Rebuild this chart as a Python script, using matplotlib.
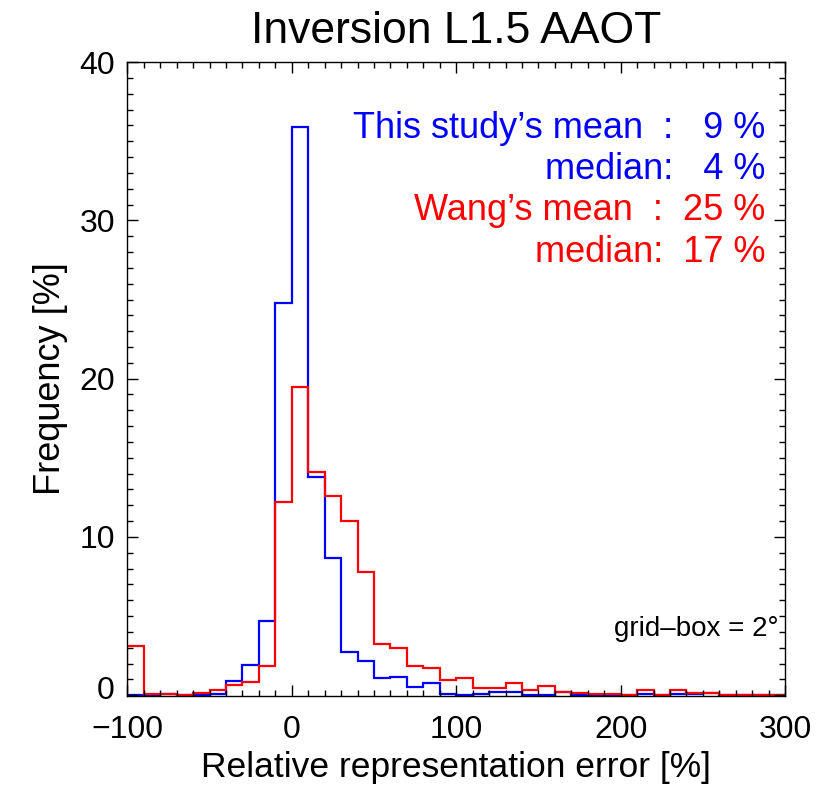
import numpy as np
import matplotlib
matplotlib.use("Agg")
import matplotlib.pyplot as plt
import matplotlib.transforms as mtransforms
from matplotlib.ticker import MultipleLocator

plt.rcParams['font.family'] = ['Liberation Sans', 'DejaVu Sans']

# bin edges (relative error, %)
edges = np.arange(-100, 301, 10)

# frequency [%] per bin, this study
blue = [0.0, 0.0, 0.1, 0.0, 0.0, 0.1, 0.9, 1.9, 4.7, 24.8,
        35.9, 13.8, 8.7, 2.7, 2.15, 1.06, 1.16, 0.53, 0.74, 0.09,
        0.0, 0.09, 0.2, 0.2, 0.0, 0.0, 0.2, 0.03, 0.0, 0.0,
        0.0, 0.05, 0.0, 0.05, 0.05, 0.12, 0.0, 0.0, 0.0, 0.0]

# frequency [%] per bin, Wang
red = [3.1, 0.1, 0.05, 0.0, 0.15, 0.3, 0.65, 0.85, 1.85, 12.2,
       19.5, 14.1, 12.6, 11.0, 7.8, 3.25, 3.0, 1.84, 1.73, 0.99,
       1.1, 0.46, 0.46, 0.74, 0.36, 0.61, 0.19, 0.12, 0.1, 0.08,
       0.0, 0.3, 0.0, 0.3, 0.15, 0.17, 0.0, 0.0, 0.0, 0.0]

fig = plt.figure(figsize=(8.23, 7.86), dpi=100)
ax = fig.add_axes([0.1547, 0.1145, 0.7993, 0.8065])

ax.stairs(blue, edges, color=(0, 0, 1), lw=1.6)
ax.stairs(red, edges, color=(1, 0, 0), lw=1.6)

ax.set_xlim(-100, 300)
ax.set_ylim(-0.05, 40)
ax.xaxis.set_major_locator(MultipleLocator(100))
ax.xaxis.set_minor_locator(MultipleLocator(10))
ax.yaxis.set_major_locator(MultipleLocator(10))
ax.yaxis.set_minor_locator(MultipleLocator(1))
ax.tick_params(which='both', direction='in', top=True, right=True, width=1)
ax.tick_params(which='major', length=8, labelsize=23)
ax.tick_params(axis='x', which='major', pad=14)
ax.tick_params(axis='y', which='major', pad=9)
ax.tick_params(which='minor', length=4)
for s in ax.spines.values():
    s.set_linewidth(1)

ax.set_title('Inversion L1.5 AAOT', fontsize=32, pad=14)
ax.set_xlabel('Relative representation error [%]', fontsize=25.5, labelpad=4)
ax.set_ylabel('Frequency [%]', fontsize=26, labelpad=8)

fs = 26
ax.text(288, 35.8, "This study\u2019s mean  :   9 %", color='blue', fontsize=fs, ha='right', va='center')
ax.text(288, 33.2, "median:   4 %", color='blue', fontsize=fs, ha='right', va='center')
ax.text(288, 30.6, "Wang\u2019s mean  :  25 %", color='red', fontsize=fs, ha='right', va='center')
ax.text(288, 28.0, "median:  17 %", color='red', fontsize=fs, ha='right', va='center')
ax.text(296, 4.2, "grid\u2013box = 2\u00b0", color='black', fontsize=20, ha='right', va='center')

# the "0" on the y axis sits a little above its tick, as in the original
fig.canvas.draw()
for t in ax.yaxis.get_major_ticks():
    if abs(t.get_loc()) < 1e-9:
        lab = t.label1
        lab.set_transform(lab.get_transform()
                          + mtransforms.ScaledTranslation(0, 8 / 100, fig.dpi_scale_trans))

fig.savefig('out.png', dpi=100)
